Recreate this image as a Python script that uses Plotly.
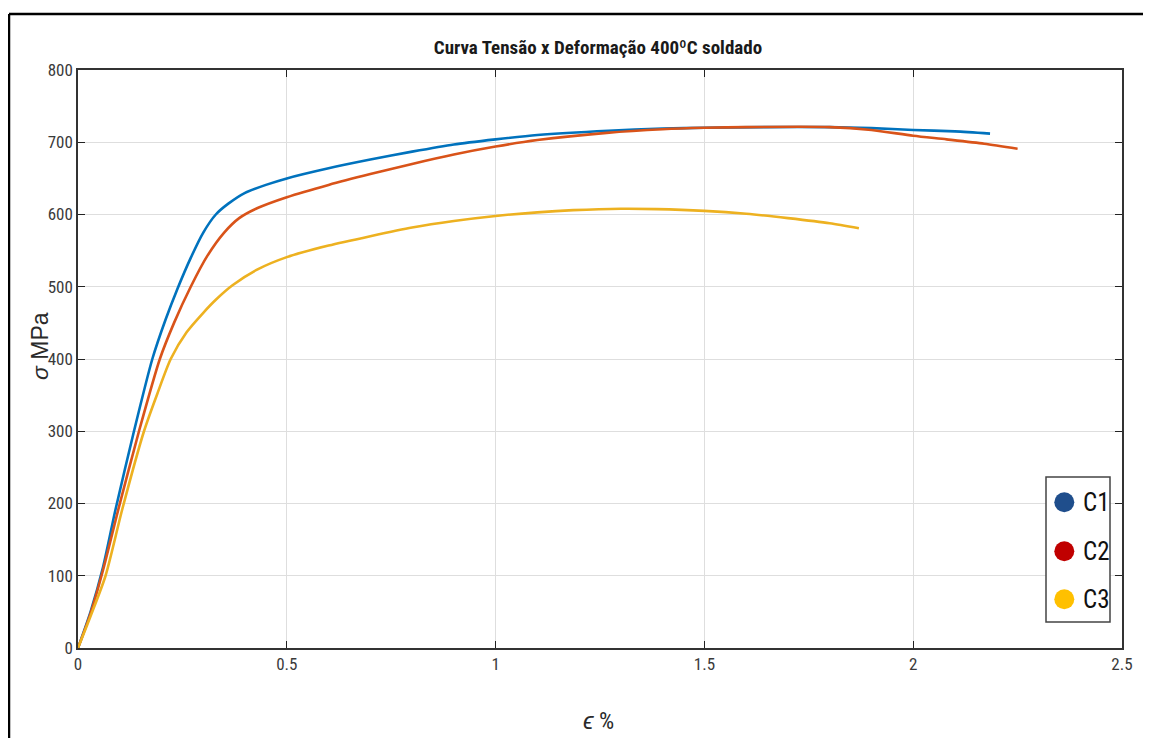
import plotly.graph_objects as go

# ---- data ----
c1_x = [0, 0.03, 0.06, 0.09, 0.134, 0.178, 0.21, 0.238, 0.27, 0.30, 0.33, 0.36, 0.40, 0.45, 0.5,
        0.6, 0.7, 0.8, 0.9, 1.0, 1.1, 1.27, 1.4, 1.5, 1.65, 1.8, 1.9, 2.0, 2.1, 2.184]
c1_y = [0, 50, 112, 192, 300, 400, 455, 497, 540, 575, 600, 615, 630, 641, 650,
        664, 676, 687, 697, 704, 710, 716, 719, 720, 721, 721, 719.5, 717, 715, 712]

c2_x = [0, 0.03, 0.06, 0.098, 0.146, 0.196, 0.23, 0.27, 0.31, 0.35, 0.386, 0.43, 0.5, 0.6, 0.7,
        0.8, 0.9, 1.0, 1.1, 1.266, 1.4, 1.5, 1.6, 1.8, 1.9, 2.0, 2.08, 2.17, 2.25]
c2_y = [0, 48, 108, 195, 300, 400, 450, 500, 543, 575, 595, 609, 624, 641, 656,
        670, 683, 694, 703, 713, 718, 720, 721, 721, 717, 709, 704, 698, 691]

c3_x = [0, 0.03, 0.066, 0.106, 0.158, 0.19, 0.222, 0.26, 0.30, 0.33, 0.37, 0.43, 0.5, 0.6, 0.7,
        0.8, 0.9, 1.0, 1.1, 1.186, 1.3, 1.386, 1.5, 1.6, 1.7, 1.8, 1.87]
c3_y = [0, 44, 100, 192, 300, 352, 400, 437, 464, 482, 502, 524, 541, 557, 570,
        582, 591, 598, 603, 606, 608, 607.5, 605, 601, 595, 588, 581]

series_names = ["C1", "C2", "C3"]
line_colors = ["#0072BD", "#D95319", "#EDB120"]
legend_colors = ["#1F4E8C", "#C00000", "#FFC000"]

x_ticks = [0, 0.5, 1, 1.5, 2, 2.5]
x_tick_text = ["0", "0.5", "1", "1.5", "2", "2.5"]
y_ticks = [0, 100, 200, 300, 400, 500, 600, 700, 800]

NARROW = "Liberation Sans Narrow, Arial Narrow, Roboto Condensed, Arial, sans-serif"

fig = go.Figure()
for xs, ys, name, col in zip([c1_x, c2_x, c3_x], [c1_y, c2_y, c3_y], series_names, line_colors):
    fig.add_trace(go.Scatter(x=xs, y=ys, mode="lines", name=name,
                             line=dict(color=col, width=2.6, shape="spline", smoothing=0.7),
                             showlegend=False))

axis_common = dict(showgrid=True, gridcolor="#dedede", gridwidth=1,
                   showline=True, linecolor="#333333", linewidth=1.5, mirror="ticks",
                   ticks="inside", ticklen=7, tickcolor="#222222", zeroline=False,
                   tickfont=dict(family=NARROW, size=17, color="#3a3a3a"))

fig.update_xaxes(range=[0, 2.5], tickvals=x_ticks, ticktext=x_tick_text, **axis_common)
fig.update_yaxes(range=[0, 800], tickvals=y_ticks, **axis_common)

shapes = []
annotations = []

# page pixel -> paper conversions (plot area spans page px x 78..1122, y 70..648)
def pxx(p):
    return (p - 78) / 1044

def pxy(p):
    return (648 - p) / 578

# outer black frame (left and top edges visible)
px0 = pxx(9)
py0 = pxy(14)
shapes.append(dict(type="line", xref="paper", yref="paper", x0=px0, x1=px0, y0=-0.3, y1=py0,
                   line=dict(color="#000000", width=2.5)))
shapes.append(dict(type="line", xref="paper", yref="paper", x0=px0, x1=1.1, y0=py0, y1=py0,
                   line=dict(color="#000000", width=2.5)))

# legend box
shapes.append(dict(type="rect", xref="paper", yref="paper", x0=pxx(1046), x1=pxx(1110),
                   y0=pxy(622), y1=pxy(477),
                   line=dict(color="#444444", width=1.5), fillcolor="#ffffff", layer="above"))
cx = pxx(1064.3)
tx = pxx(1081)
row_py = [502.3, 551.3, 599.3]
for name, col, py in zip(series_names, legend_colors, row_py):
    cy = pxy(py)
    shapes.append(dict(type="circle", xref="paper", yref="paper", xsizemode="pixel", ysizemode="pixel",
                       xanchor=cx, yanchor=cy, x0=-10, x1=10, y0=-10, y1=10,
                       fillcolor=col, line=dict(color=col, width=0), layer="above"))
    annotations.append(dict(text=name, xref="paper", yref="paper", x=tx, y=cy,
                            xanchor="left", yanchor="middle", showarrow=False,
                            font=dict(family=NARROW, size=25, color="#111111")))

# axis titles
annotations.append(dict(text="<i>σ</i> MPa", xref="paper", yref="paper", x=pxx(40),
                        y=pxy(346), textangle=-90, showarrow=False,
                        xanchor="center", yanchor="middle",
                        font=dict(family="Liberation Sans, Arial, sans-serif", size=23, color="#2a2a2a")))
annotations.append(dict(text="<i>ϵ</i> %", xref="paper", yref="paper", x=pxx(598),
                        y=pxy(721), showarrow=False, xanchor="center", yanchor="middle",
                        font=dict(family=NARROW, size=24, color="#2a2a2a")))

# the page body has an 8px margin, so the figure starts at page (8, 8)
W, H = 1143, 730
fig.update_layout(
    width=W, height=H,
    margin=dict(l=70, r=29, t=62, b=90),
    paper_bgcolor="#ffffff", plot_bgcolor="#ffffff",
    title=dict(text="<b>Curva Tensão x Deformação 400ºC soldado</b>",
               x=(598 - 8) / W, xanchor="center",
               y=1 - (47 - 8) / H, yanchor="middle",
               font=dict(family=NARROW, size=19, color="#1a1a1a")),
    shapes=shapes, annotations=annotations, showlegend=False,
)

fig.write_html("out.html")
